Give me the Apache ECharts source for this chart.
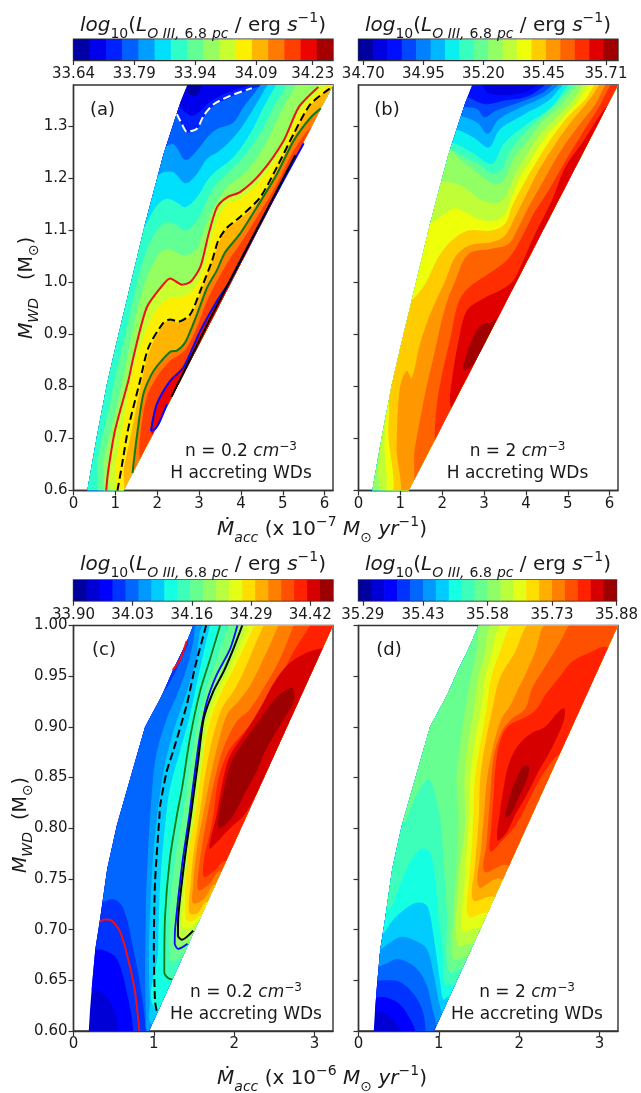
<!DOCTYPE html>
<html><head><meta charset="utf-8">
<style>html,body{margin:0;padding:0;background:#fff}#c{width:641px;height:1093px}</style>
<script src="https://cdn.jsdelivr.net/npm/echarts@6/dist/echarts.min.js"></script></head>
<body><div id="c"></div><script>
// colour bar levels
const levelsA=[33.64,33.68,33.72,33.76,33.80,33.84,33.88,33.92,33.96,34.00,34.04,34.08,34.12,34.16,34.20,34.24,34.28];
const levelsB=[34.68,34.74,34.80,34.86,34.92,34.98,35.04,35.10,35.16,35.22,35.28,35.34,35.40,35.46,35.52,35.58,35.64,35.70,35.76];
const levelsC=[33.90,33.9285,33.957,33.9855,34.014,34.0425,34.071,34.0995,34.128,34.1565,34.185,34.2135,34.242,34.2705,34.299,34.3275,34.356,34.3845,34.413,34.4415,34.47];
const levelsD=[35.28,35.31,35.34,35.37,35.40,35.43,35.46,35.49,35.52,35.55,35.58,35.61,35.64,35.67,35.70,35.73,35.76,35.79,35.82,35.85,35.88];
const cbTicksA=[33.64,33.79,33.94,34.09,34.23];
const cbTicksB=[34.70,34.95,35.20,35.45,35.71];
const cbTicksC=[33.90,34.03,34.16,34.29,34.42];
const cbTicksD=[35.29,35.43,35.58,35.73,35.88];
const yTicksH=[0.6,0.7,0.8,0.9,1.0,1.1,1.2,1.3];
const yTicksHe=[0.60,0.65,0.70,0.75,0.80,0.85,0.90,0.95,1.00];
const xTicksH=[0,1,2,3,4,5,6];
const xTicksHe=[0,1,2,3];
// model domains
const domainH=[[0.33,0.6],[0.56,0.705],[0.8,0.805],[1.03,0.885],[1.27,0.965],[1.71,1.113],[2.15,1.247],[2.55,1.346],[2.72,1.38],[6.2,1.38],[1.2,0.6]];
const domainHe=[[0.19,0.6],[0.205,0.62],[0.23,0.645],[0.27,0.68],[0.33,0.71],[0.42,0.76],[0.54,0.803],[0.89,0.9],[1.08,0.928],[1.14,0.938],[1.24,0.956],[1.41,0.984],[1.49,1.0],[3.23,1.0],[0.94,0.6]];
const everywhere=[[-1,0.4],[8,0.4],[8,1.6],[-1,1.6],[-1,0.4]];
// contour lines (a)
const whiteA=[[2.47,1.324],[2.59,1.305],[2.71,1.29],[2.95,1.296],[3.11,1.321],[3.35,1.343],[3.74,1.359],[4.26,1.374]];
const redA=[[0.78,0.6],[0.83,0.638],[0.99,0.715],[1.31,0.811],[1.43,0.856],[1.75,0.952],[2.15,0.997],[2.31,1.008],[2.59,0.996],[2.79,1.001],[3.03,1.03],[3.23,1.094],[3.43,1.145],[3.67,1.164],[3.98,1.174],[4.46,1.209],[5.02,1.273],[5.38,1.337],[5.85,1.376]];
const dashA=[[1.05,0.6],[1.15,0.645],[1.31,0.72],[1.59,0.811],[1.79,0.875],[2.15,0.923],[2.31,0.929],[2.51,0.925],[2.79,0.939],[3.03,0.984],[3.31,1.042],[3.46,1.081],[3.67,1.106],[3.98,1.126],[4.46,1.164],[4.86,1.222],[5.26,1.286],[5.66,1.343],[6.14,1.374]];
const greenA=[[1.41,0.634],[1.51,0.702],[1.67,0.786],[1.91,0.83],[2.31,0.867],[2.47,0.869],[2.67,0.885],[2.95,0.939],[3.19,0.99],[3.42,1.023],[3.62,1.058],[3.98,1.094],[4.38,1.145],[4.86,1.209],[5.26,1.273],[5.66,1.317],[5.91,1.335]];
const blueA=[[2.23,0.766],[2.07,0.734],[1.95,0.718],[1.85,0.715],[1.99,0.766],[2.31,0.811],[2.63,0.837],[3.03,0.907],[3.43,0.965],[3.74,1.003],[4.5,1.12],[5.5,1.268]];
const blackA=[[2.34,0.78],[3.2,0.92],[4.2,1.075],[5.3,1.245]];
// contour lines (c)
const redC1=[[0.82,0.6],[0.765,0.639],[0.68,0.671],[0.58,0.698],[0.475,0.709],[0.39,0.71],[0.33,0.708]];
const redC2=[[1.235,0.956],[1.33,0.967],[1.41,0.985]];
const dashC=[[1.035,0.62],[1.015,0.629],[1.0,0.681],[1.015,0.747],[1.07,0.812],[1.08,0.823],[1.16,0.856],[1.24,0.876],[1.41,0.922],[1.51,0.958],[1.64,0.997],[1.65,1.0]];
const greenC=[[1.23,0.651],[1.18,0.652],[1.13,0.658],[1.14,0.714],[1.2,0.77],[1.285,0.812],[1.35,0.839],[1.45,0.889],[1.575,0.935],[1.7,0.967],[1.825,1.0]];
const blueC=[[1.42,0.686],[1.305,0.681],[1.26,0.686],[1.265,0.701],[1.35,0.763],[1.44,0.812],[1.49,0.843],[1.575,0.892],[1.66,0.925],[1.78,0.951],[1.95,0.977],[2.04,1.0]];
const blackC=[[1.49,0.699],[1.35,0.69],[1.3,0.694],[1.305,0.714],[1.39,0.773],[1.46,0.812],[1.49,0.83],[1.555,0.869],[1.62,0.908],[1.74,0.935],[1.865,0.954],[1.99,0.977],[2.1,1.0]];
// filled bands: [colour index, boundary of the region above that level]
const bandsA=[
[0,everywhere],
[1,[[2.62,1.385],[2.76,1.362],[2.95,1.361],[3.12,1.385]]],
[2,[[2.47,1.343],[2.63,1.33],[2.83,1.321],[3.03,1.33],[3.23,1.346],[3.5,1.359],[3.9,1.372],[4.22,1.381]]],
[3,[[2.35,1.33],[2.47,1.321],[2.59,1.303],[2.71,1.289],[2.95,1.294],[3.11,1.318],[3.35,1.34],[3.74,1.356],[4.22,1.372],[4.54,1.381]]],
[4,[[2.11,1.26],[2.39,1.266],[2.67,1.236],[2.95,1.254],[3.19,1.279],[3.42,1.295],[3.82,1.308],[4.06,1.337],[4.3,1.362],[4.54,1.385]]],
[5,[[1.91,1.202],[2.15,1.212],[2.39,1.212],[2.67,1.191],[2.95,1.209],[3.19,1.238],[3.5,1.254],[3.9,1.286],[4.22,1.324],[4.46,1.356],[4.7,1.385]]],
[6,[[1.43,1.1],[1.67,1.106],[1.99,1.148],[2.23,1.161],[2.47,1.154],[2.67,1.145],[2.95,1.164],[3.19,1.196],[3.42,1.215],[3.82,1.241],[4.22,1.286],[4.54,1.337],[4.74,1.366],[4.9,1.385]]],
[7,[[0.46,0.58],[0.59,0.664],[0.83,0.754],[1.07,0.843],[1.31,0.926],[1.55,1.009],[1.75,1.062],[1.99,1.1],[2.23,1.116],[2.47,1.11],[2.67,1.1],[2.95,1.119],[3.15,1.151],[3.35,1.183],[3.66,1.209],[4.06,1.241],[4.46,1.286],[4.78,1.337],[5.02,1.369],[5.14,1.385]]],
[8,[[0.6,0.58],[0.73,0.658],[0.95,0.735],[1.19,0.818],[1.43,0.914],[1.67,0.99],[1.99,1.049],[2.23,1.065],[2.47,1.058],[2.67,1.052],[2.95,1.065],[3.11,1.1],[3.35,1.145],[3.66,1.183],[4.14,1.215],[4.54,1.26],[4.86,1.311],[5.1,1.35],[5.38,1.385]]],
[9,[[0.77,0.58],[0.83,0.638],[0.99,0.715],[1.31,0.811],[1.43,0.856],[1.75,0.952],[2.15,0.997],[2.31,1.008],[2.59,0.996],[2.79,1.001],[3.03,1.03],[3.23,1.094],[3.43,1.145],[3.67,1.164],[3.98,1.174],[4.46,1.209],[5.02,1.273],[5.38,1.337],[5.9,1.385]]],
[10,[[0.9,0.58],[0.99,0.645],[1.23,0.747],[1.39,0.824],[1.67,0.894],[1.99,0.949],[2.31,0.971],[2.59,0.972],[2.87,0.987],[3.03,1.01],[3.19,1.049],[3.35,1.1],[3.66,1.151],[3.98,1.161],[4.46,1.196],[5.02,1.26],[5.38,1.324],[5.82,1.365],[6.14,1.385]]],
[11,[[1.09,0.58],[1.21,0.645],[1.39,0.715],[1.63,0.811],[1.83,0.872],[2.15,0.92],[2.31,0.928],[2.51,0.923],[2.79,0.936],[3.04,0.981],[3.35,1.049],[3.5,1.081],[3.68,1.106],[3.98,1.122],[4.46,1.161],[4.86,1.218],[5.26,1.282],[5.66,1.34],[6.18,1.378],[6.4,1.39]]],
[12,[[1.38,0.58],[1.41,0.634],[1.51,0.702],[1.67,0.786],[1.91,0.83],[2.31,0.867],[2.47,0.869],[2.67,0.885],[2.95,0.939],[3.19,0.99],[3.42,1.023],[3.62,1.058],[3.98,1.094],[4.38,1.145],[4.86,1.209],[5.26,1.273],[5.66,1.317],[5.91,1.335],[6.3,1.36]]],
[13,[[1.7,0.6],[1.58,0.66],[1.59,0.702],[1.75,0.779],[1.99,0.818],[2.31,0.85],[2.55,0.862],[2.71,0.875],[2.95,0.914],[3.19,0.965],[3.66,1.036],[3.98,1.074],[4.38,1.125],[4.86,1.19],[5.26,1.254],[5.66,1.298],[5.85,1.3]]],
[14,[[2.0,0.7],[1.85,0.715],[1.99,0.766],[2.31,0.811],[2.63,0.837],[3.03,0.907],[3.43,0.965],[3.74,1.003],[4.5,1.12],[5.5,1.268],[5.7,1.28]]],
[15,[[2.5,0.76],[2.36,0.78],[3.2,0.912],[4.2,1.068],[5.25,1.234],[5.5,1.25]]]
];
const bandsB=[
[1,everywhere],
[2,[[2.87,1.385],[3.11,1.364],[3.58,1.361],[4.06,1.369],[4.34,1.385]]],
[3,[[2.55,1.356],[3.03,1.343],[3.5,1.35],[4.06,1.359],[4.54,1.385]]],
[4,[[2.43,1.337],[2.83,1.334],[3.01,1.318],[3.27,1.33],[3.82,1.346],[4.38,1.364],[4.7,1.385]]],
[5,[[2.35,1.321],[2.83,1.308],[3.09,1.286],[3.35,1.314],[3.82,1.335],[4.46,1.359],[4.84,1.385]]],
[6,[[2.27,1.295],[2.75,1.279],[3.11,1.26],[3.38,1.295],[3.9,1.321],[4.54,1.35],[4.94,1.385]]],
[7,[[2.15,1.27],[2.71,1.25],[3.19,1.228],[3.46,1.266],[3.98,1.302],[4.62,1.338],[5.06,1.385]]],
[8,[[2.07,1.26],[2.47,1.244],[2.87,1.228],[3.19,1.209],[3.43,1.218],[3.58,1.247],[3.9,1.282],[4.26,1.311],[4.66,1.34],[5.18,1.385]]],
[9,[[2.07,1.257],[2.47,1.234],[2.79,1.215],[3.19,1.191],[3.43,1.193],[3.58,1.215],[3.74,1.244],[3.98,1.266],[4.34,1.305],[4.78,1.337],[5.3,1.385]]],
[10,[[0.39,0.58],[0.47,0.645],[0.52,0.69],[0.4,0.9],[1.8,1.19],[1.99,1.193],[2.31,1.191],[2.63,1.177],[2.95,1.158],[3.38,1.155],[3.58,1.177],[3.74,1.209],[3.98,1.241],[4.38,1.289],[4.78,1.321],[5.18,1.356],[5.4,1.385]]],
[11,[[0.54,0.58],[0.62,0.696],[0.67,0.747],[0.7,0.779],[0.5,0.85],[1.5,1.11],[1.71,1.113],[2.07,1.132],[2.31,1.143],[2.55,1.135],[2.87,1.122],[3.27,1.119],[3.5,1.132],[3.66,1.164],[3.82,1.196],[4.06,1.228],[4.46,1.279],[4.86,1.314],[5.26,1.352],[5.54,1.385]]],
[12,[[0.71,0.58],[0.71,0.715],[0.73,0.766],[0.67,0.811],[1.11,0.965],[1.26,0.965],[1.59,0.997],[1.91,1.049],[2.23,1.081],[2.63,1.1],[3.19,1.1],[3.5,1.113],[3.66,1.145],[3.9,1.183],[4.22,1.228],[4.62,1.279],[5.02,1.321],[5.42,1.352],[5.68,1.385]]],
[13,[[0.9,0.58],[0.91,0.683],[0.99,0.798],[1.15,0.83],[1.27,0.816],[1.47,0.882],[1.71,0.939],[2.07,1.003],[2.31,1.049],[2.63,1.071],[3.19,1.078],[3.5,1.09],[3.74,1.126],[3.98,1.164],[4.3,1.215],[4.7,1.266],[5.1,1.311],[5.5,1.35],[5.8,1.385]]],
[14,[[1.15,0.59],[1.35,0.683],[1.59,0.786],[1.79,0.856],[2.07,0.952],[2.31,1.003],[2.63,1.055],[3.19,1.065],[3.58,1.074],[3.82,1.106],[4.06,1.145],[4.42,1.196],[4.78,1.247],[5.22,1.298],[5.66,1.343],[5.94,1.385]]],
[15,[[1.95,0.68],[1.83,0.69],[1.87,0.763],[1.99,0.821],[2.19,0.891],[2.39,0.962],[2.63,0.99],[3.11,1.017],[3.58,1.046],[3.9,1.087],[4.18,1.132],[4.54,1.177],[4.9,1.228],[5.34,1.286],[5.74,1.337],[6.06,1.385]]],
[16,[[2.3,0.755],[2.19,0.765],[2.23,0.811],[2.39,0.888],[2.59,0.946],[2.95,0.968],[3.43,0.987],[3.7,1.004],[3.9,1.036],[4.22,1.094],[4.62,1.158],[4.94,1.222],[5.38,1.273],[5.94,1.34],[6.1,1.34]]],
[17,[[2.5,0.832],[2.67,0.882],[2.91,0.917],[3.16,0.923],[3.3,0.93],[3.03,0.885],[2.75,0.843],[2.5,0.832]]]
];
const bandsC=[
[1,everywhere],
[2,[[0.56,0.596],[0.5,0.622],[0.37,0.637],[0.21,0.641],[0.12,0.641]]],
[3,[[0.745,0.596],[0.68,0.632],[0.54,0.671],[0.37,0.68],[0.25,0.68],[0.16,0.68]]],
[4,[[0.9,0.596],[0.85,0.635],[0.745,0.681],[0.62,0.721],[0.5,0.73],[0.37,0.727],[0.29,0.725]]],
[3,[[1.12,0.935],[1.24,0.95],[1.33,0.965],[1.43,0.985],[1.37,0.99],[1.05,0.94],[1.12,0.935]]],
[5,[[0.95,0.598],[0.9,0.616],[0.9,0.714],[0.93,0.78],[0.99,0.849],[1.04,0.876],[1.16,0.908],[1.285,0.931],[1.41,0.958],[1.49,0.984],[1.54,1.002]]],
[6,[[0.99,0.606],[0.95,0.629],[0.94,0.681],[0.96,0.73],[1.015,0.793],[1.12,0.856],[1.24,0.895],[1.41,0.935],[1.53,0.967],[1.625,1.002]]],
[7,[[1.07,0.619],[1.055,0.681],[1.08,0.747],[1.14,0.803],[1.2,0.839],[1.325,0.876],[1.45,0.912],[1.575,0.958],[1.69,0.997],[1.71,1.002]]],
[8,[[1.28,0.648],[1.18,0.652],[1.13,0.658],[1.14,0.714],[1.2,0.77],[1.285,0.812],[1.35,0.839],[1.45,0.889],[1.575,0.935],[1.7,0.967],[1.825,1.0],[1.83,1.002]]],
[9,[[1.36,0.673],[1.265,0.669],[1.2,0.671],[1.195,0.714],[1.265,0.77],[1.36,0.812],[1.41,0.839],[1.51,0.889],[1.64,0.935],[1.78,0.967],[1.93,1.0],[1.94,1.002]]],
[10,[[1.47,0.687],[1.42,0.686],[1.305,0.681],[1.26,0.686],[1.265,0.701],[1.35,0.763],[1.44,0.812],[1.49,0.843],[1.575,0.892],[1.66,0.925],[1.78,0.951],[1.95,0.977],[2.04,1.0],[2.05,1.002]]],
[11,[[1.51,0.699],[1.49,0.699],[1.35,0.69],[1.3,0.694],[1.305,0.714],[1.39,0.773],[1.46,0.812],[1.49,0.83],[1.555,0.869],[1.62,0.908],[1.74,0.935],[1.865,0.954],[1.99,0.977],[2.1,1.0],[2.11,1.002]]],
[12,[[1.575,0.707],[1.45,0.701],[1.36,0.701],[1.345,0.714],[1.43,0.773],[1.5,0.812],[1.53,0.83],[1.6,0.869],[1.665,0.908],[1.79,0.935],[1.915,0.954],[2.05,0.977],[2.165,1.0],[2.175,1.002]]],
[13,[[1.62,0.714],[1.47,0.708],[1.395,0.711],[1.42,0.77],[1.51,0.812],[1.575,0.849],[1.65,0.889],[1.74,0.915],[1.845,0.935],[1.97,0.954],[2.115,0.977],[2.25,1.0],[2.26,1.002]]],
[14,[[1.68,0.727],[1.535,0.716],[1.44,0.717],[1.46,0.747],[1.49,0.773],[1.565,0.812],[1.64,0.853],[1.72,0.885],[1.845,0.918],[1.99,0.935],[2.115,0.954],[2.26,0.981],[2.365,1.0],[2.375,1.002]]],
[15,[[1.78,0.744],[1.62,0.73],[1.49,0.726],[1.485,0.74],[1.535,0.78],[1.61,0.812],[1.71,0.853],[1.805,0.885],[1.91,0.912],[2.05,0.925],[2.2,0.941],[2.405,0.974],[2.55,1.0],[2.56,1.002]]],
[16,[[1.845,0.757],[1.68,0.744],[1.555,0.739],[1.555,0.757],[1.615,0.79],[1.665,0.812],[1.76,0.849],[1.865,0.879],[2.03,0.905],[2.2,0.918],[2.365,0.938],[2.57,0.967],[2.74,1.0],[2.75,1.002]]],
[17,[[1.91,0.767],[1.74,0.757],[1.625,0.752],[1.625,0.77],[1.7,0.796],[1.74,0.812],[1.805,0.849],[1.93,0.876],[2.09,0.892],[2.365,0.918],[2.57,0.948],[2.74,0.974],[2.945,1.0],[2.955,1.002]]],
[18,[[1.69,0.78],[1.78,0.786],[1.95,0.8],[2.115,0.812],[2.24,0.828],[2.405,0.853],[3.17,0.974],[3.06,0.977],[2.74,0.966],[2.53,0.948],[2.32,0.918],[2.115,0.892],[1.95,0.872],[1.865,0.849],[1.78,0.813],[1.69,0.78]]],
[19,[[1.805,0.8],[1.825,0.82],[1.885,0.843],[1.97,0.866],[2.115,0.885],[2.3,0.905],[2.49,0.926],[2.675,0.938],[2.74,0.937],[2.74,0.925],[2.55,0.899],[2.385,0.876],[2.26,0.853],[2.135,0.835],[1.99,0.813],[1.885,0.803],[1.805,0.8]]]
];
const bandsD=[
[1,everywhere],
[2,[[0.52,0.598],[0.455,0.609],[0.33,0.617],[0.2,0.619],[0.145,0.619]]],
[3,[[0.71,0.598],[0.64,0.612],[0.52,0.626],[0.35,0.633],[0.225,0.633],[0.145,0.631]]],
[4,[[0.835,0.598],[0.79,0.622],[0.66,0.639],[0.495,0.649],[0.33,0.65],[0.16,0.649]]],
[5,[[0.97,0.603],[0.92,0.622],[0.85,0.645],[0.72,0.662],[0.495,0.671],[0.33,0.666],[0.185,0.662]]],
[6,[[1.045,0.612],[1.0,0.629],[0.93,0.658],[0.85,0.681],[0.705,0.689],[0.535,0.693],[0.37,0.686],[0.27,0.68],[0.2,0.678]]],
[7,[[1.12,0.634],[1.055,0.631],[1.015,0.649],[0.945,0.688],[0.87,0.721],[0.805,0.726],[0.7,0.726],[0.56,0.719],[0.415,0.708],[0.31,0.696],[0.25,0.694]]],
[8,[[1.2,0.645],[1.08,0.645],[1.045,0.681],[0.995,0.714],[0.945,0.757],[0.89,0.776],[0.83,0.78],[0.745,0.778],[0.62,0.763],[0.495,0.74],[0.39,0.72],[0.3,0.722]]],
[9,[[1.325,0.66],[1.125,0.659],[1.1,0.714],[1.055,0.773],[1.015,0.812],[0.99,0.82],[0.93,0.841],[0.87,0.848],[0.795,0.843],[0.68,0.826],[0.58,0.807],[0.495,0.805]]],
[10,[[1.39,0.673],[1.18,0.671],[1.18,0.714],[1.22,0.763],[1.245,0.812],[1.22,0.849],[1.265,0.882],[1.325,0.915],[1.4,0.948],[1.47,0.974],[1.54,1.002]]],
[11,[[1.45,0.686],[1.235,0.685],[1.245,0.747],[1.32,0.796],[1.325,0.816],[1.32,0.849],[1.36,0.882],[1.43,0.915],[1.49,0.948],[1.575,0.974],[1.66,1.002]]],
[12,[[1.53,0.701],[1.295,0.699],[1.32,0.747],[1.36,0.796],[1.38,0.816],[1.39,0.849],[1.44,0.882],[1.515,0.915],[1.575,0.948],[1.66,0.974],[1.78,1.002]]],
[13,[[1.62,0.716],[1.37,0.713],[1.375,0.747],[1.41,0.78],[1.43,0.816],[1.45,0.849],[1.515,0.882],[1.59,0.915],[1.65,0.948],[1.76,0.974],[1.91,1.002]]],
[14,[[1.7,0.732],[1.43,0.729],[1.45,0.763],[1.485,0.796],[1.5,0.816],[1.515,0.849],[1.575,0.882],[1.66,0.915],[1.76,0.948],[1.95,0.974],[2.11,1.002]]],
[15,[[1.78,0.75],[1.5,0.742],[1.525,0.78],[1.565,0.816],[1.6,0.849],[1.68,0.882],[1.78,0.908],[1.89,0.921],[1.99,0.938],[2.055,0.948],[2.2,0.974],[2.32,1.002]]],
[16,[[1.865,0.763],[1.57,0.757],[1.595,0.786],[1.62,0.812],[1.64,0.833],[1.68,0.869],[1.78,0.895],[1.91,0.908],[2.075,0.918],[2.16,0.938],[2.28,0.954],[2.49,0.981],[2.635,1.002]]],
[17,[[1.64,0.777],[1.78,0.787],[1.93,0.8],[2.03,0.813],[2.22,0.843],[2.405,0.866],[2.61,0.882],[3.15,0.971],[3.07,0.979],[2.9,0.974],[2.655,0.964],[2.49,0.948],[2.32,0.931],[2.22,0.918],[2.09,0.91],[1.865,0.901],[1.76,0.885],[1.7,0.856],[1.68,0.83],[1.65,0.8],[1.64,0.777]]],
[18,[[1.73,0.788],[1.845,0.796],[1.95,0.813],[2.095,0.833],[2.24,0.856],[2.405,0.879],[2.55,0.905],[2.565,0.918],[2.49,0.915],[2.32,0.9],[2.155,0.894],[1.99,0.882],[1.865,0.862],[1.805,0.839],[1.76,0.816],[1.73,0.788]]],
[19,[[1.83,0.811],[1.865,0.826],[1.95,0.846],[2.05,0.861],[2.12,0.861],[2.095,0.848],[1.99,0.83],[1.89,0.813],[1.83,0.811]]]
];

function jet(t){
  const c=(v)=>Math.round(255*Math.max(0,Math.min(1,v)));
  const r=t<0.35?0:t<0.66?(t-0.35)/0.31:t<0.89?1:1-(t-0.89)/0.11*0.5;
  const g=t<0.125?0:t<0.375?(t-0.125)/0.25:t<0.64?1:t<0.91?(0.91-t)/0.27:0;
  const b=t<0.11?0.5+t/0.11*0.5:t<0.34?1:t<0.65?(0.65-t)/0.31:0;
  return 'rgb('+c(r)+','+c(g)+','+c(b)+')';
}
const frame='#333333', ink='#1a1a1a', font='"DejaVu Sans"';
const grids=[],xAxes=[],yAxes=[],series=[];
function addAxes(g,xOpt,yOpt){grids.push(Object.assign({show:true,borderColor:frame,borderWidth:1.4,backgroundColor:'#fff',containLabel:false},g));
  const i=grids.length-1;
  xAxes.push(Object.assign({type:'value',gridIndex:i,splitLine:{show:false},axisLine:{show:true,onZero:false,lineStyle:{color:frame,width:1.4}}},xOpt));
  yAxes.push(Object.assign({type:'value',gridIndex:i,splitLine:{show:false},axisLine:{show:true,onZero:false,lineStyle:{color:frame,width:1.4}}},yOpt));
  return i;}
function closeLine(line){
  const f=line[0],l=line[line.length-1];
  if(f[0]===l[0]&&f[1]===l[1]) return line.slice(0,-1);
  if(l[0]<f[0]) return line.concat([[-1,l[1]],[-1,1.6],[8,1.6],[8,0.4],[f[0],0.4]]);
  if(f[0]>line[1][0]) return line.concat([[8,1.6],[8,0.4]]);
  return line.concat([[8,1.6],[8,0.4],[-1,0.4],[-1,f[1]]]);
}
function plot(pos,xMax,yMin,yMax,xTicks,yTicks,dec,showY,domain,bands,nColors,lines){
  const i=addAxes({left:pos[0],top:pos[1],width:259.5,height:pos[2]},
   {min:0,max:xMax,axisTick:{show:true,customValues:xTicks,length:5,lineStyle:{color:frame,width:1.2}},axisLabel:{customValues:xTicks,fontFamily:font,fontSize:15,color:ink,margin:6,formatter:v=>String(v)}},
   {min:yMin,max:yMax,axisTick:{show:true,customValues:yTicks,length:5,lineStyle:{color:frame,width:1.2}},axisLabel:{show:showY,customValues:yTicks,fontFamily:font,fontSize:15,color:ink,margin:6,formatter:v=>v.toFixed(dec)}});
  series.push({type:'custom',xAxisIndex:i,yAxisIndex:i,silent:true,z:2,clip:true,animation:false,
    data:bands.map((b,k)=>k),
    renderItem:(p,api)=>{
      const b=bands[p.dataIndex];
      return {type:'polygon',shape:{points:closeLine(b[1]).map(q=>api.coord(q)),smooth:b[1]===everywhere?0:0.35},
        style:{fill:jet((b[0]+0.5)/nColors)},
        clipPath:{type:'polygon',shape:{points:domain.map(q=>api.coord(q))}}};
    }});
  lines.forEach(l=>series.push({type:'line',xAxisIndex:i,yAxisIndex:i,data:l[0],showSymbol:false,smooth:0.25,silent:true,z:5,animation:false,
    lineStyle:{color:l[1],width:l[2]||1.6,type:l[3]||'solid'}}));
}
function colorbar(pos,levels,ticks){
  const i=addAxes({left:pos[0],top:pos[1],width:259.5,height:20.7},
   {min:levels[0],max:levels[levels.length-1],axisTick:{show:true,customValues:ticks,length:5,lineStyle:{color:frame,width:1.2}},axisLabel:{customValues:ticks,fontFamily:font,fontSize:15,color:ink,margin:7,hideOverlap:false,showMinLabel:true,showMaxLabel:true,formatter:v=>v.toFixed(2)}},
   {min:0,max:1,axisLine:{show:false},axisTick:{show:false},axisLabel:{show:false}});
  const n=levels.length-1;
  series.push({type:'custom',xAxisIndex:i,yAxisIndex:i,silent:true,z:2,animation:false,
    data:levels.slice(0,-1).map((v,k)=>[v,levels[k+1]]),encode:{x:[0,1]},
    renderItem:(p,api)=>{
      const a=api.coord([api.value(0),1]),c=api.coord([api.value(1),0]);
      const extra=p.dataIndex<n-1?0.6:0;
      return {type:'rect',shape:{x:a[0],y:a[1],width:c[0]-a[0]+extra,height:c[1]-a[1]},style:{fill:jet((p.dataIndex+0.5)/n)}};
    }});
}
const leftX=73.5,rightX=358.5;
colorbar([leftX,39.3],levelsA,cbTicksA);
colorbar([rightX,39.3],levelsB,cbTicksB);
colorbar([leftX,580],levelsC,cbTicksC);
colorbar([rightX,580],levelsD,cbTicksD);
plot([leftX,85,405.5],6.2,0.6,1.38,xTicksH,yTicksH,1,true,domainH,bandsA,16,[[whiteA,'#ffffff',2,'dashed'],[redA,'#f01018',2],[dashA,'#000000',2,'dashed'],[greenA,'#107a10',2],[blueA,'#0808ff',2],[blackA,'#000000',2]]);
plot([rightX,85,405.5],6.2,0.6,1.38,xTicksH,yTicksH,1,false,domainH,bandsB,18,[]);
plot([leftX,625.5,405.5],3.23,0.6,1.0,xTicksHe,yTicksHe,2,true,domainHe,bandsC,20,[[redC1,'#f01018',2],[redC2,'#f01018',2],[dashC,'#000000',2,'dashed'],[greenC,'#107a10',1.8],[blueC,'#0808ff',1.8],[blackC,'#000000',2]]);
plot([rightX,625.5,405.5],3.23,0.6,1.0,xTicksHe,yTicksHe,2,false,domainHe,bandsD,20,[]);

const rich={
  n:{fontFamily:font,fontSize:20,color:ink,lineHeight:30},
  i:{fontFamily:font,fontSize:20,fontStyle:'italic',color:ink,lineHeight:30},
  s:{fontFamily:font,fontSize:14,fontStyle:'italic',color:ink,lineHeight:14,verticalAlign:'bottom'},
  r:{fontFamily:font,fontSize:14,color:ink,lineHeight:14,verticalAlign:'bottom'},
  u:{fontFamily:font,fontSize:14,color:ink,lineHeight:14,verticalAlign:'top'},
  p:{fontFamily:font,fontSize:18,color:ink,lineHeight:24},
  yn:{fontFamily:font,fontSize:19,color:ink,lineHeight:28},
  yi:{fontFamily:font,fontSize:19,fontStyle:'italic',color:ink,lineHeight:28},
  m:{fontFamily:font,fontSize:17,color:ink,lineHeight:22},
  mi:{fontFamily:font,fontSize:17,fontStyle:'italic',color:ink,lineHeight:22},
  mu:{fontFamily:font,fontSize:12,color:ink,lineHeight:11,verticalAlign:'top'}
};
function txt(text,x,y,rot){return {type:'text',x:x,y:y,rotation:rot||0,z:20,style:{text:text,rich:rich,font:'16px '+font,fill:ink,align:'center',verticalAlign:'middle'}};}
const colorTitle='{i|log}{r|10}{n|(}{i|L}{s|O III,} {r|6.8} {s|pc}{n| / erg }{i|s}{u|−1}{n|)}';
const mdot=(e)=>'{i|Ṁ}{s|acc}{n| (x 10}{u|−'+e+'}{n| }{i|M}{r|⊙}{n| }{i|yr}{u|−1}{n|)}';
const graphic=[
 txt(colorTitle,203,26),txt(colorTitle,488,26),txt(colorTitle,203,565),txt(colorTitle,488,565),
 txt('{p|(a)}',102.5,110),txt('{p|(b)}',387,110),txt('{p|(c)}',104,650),txt('{p|(d)}',389,650),
 txt('{m|n = 0.2 }{mi|cm}{mu|−3}',241,452),txt('{m|H accreting WDs}',241,474),
 txt('{m|n = 2 }{mi|cm}{mu|−3}',517.5,452),txt('{m|H accreting WDs}',517.5,474),
 txt('{m|n = 0.2 }{mi|cm}{mu|−3}',246,993),txt('{m|He accreting WDs}',246,1015),
 txt('{m|n = 2 }{mi|cm}{mu|−3}',527,993),txt('{m|He accreting WDs}',527,1015),
 txt(mdot(7),322,530),txt(mdot(6),322,1079),
 txt('{yi|M}{s|WD}{yn|   (M}{r|⊙}{yn|)}',27,288,Math.PI/2),
 txt('{yi|M}{s|WD}{yn|  (M}{r|⊙}{yn|)}',21,825,Math.PI/2)
];
const chart=echarts.init(document.getElementById('c'),null,{renderer:'canvas'});
chart.setOption({animation:false,backgroundColor:'#fff',grid:grids,xAxis:xAxes,yAxis:yAxes,series:series,graphic:graphic});
</script></body></html>
